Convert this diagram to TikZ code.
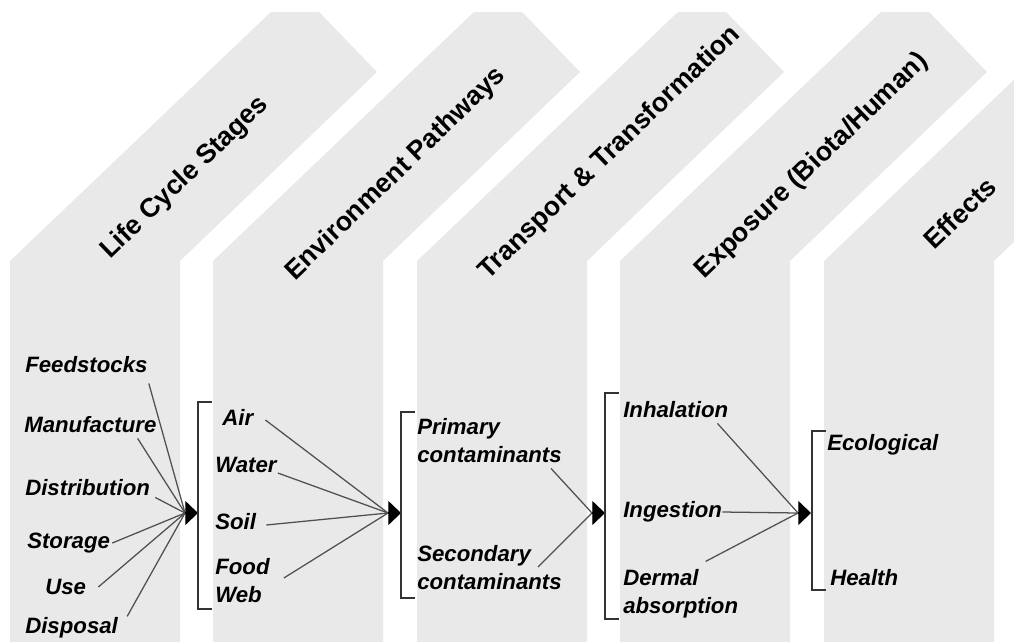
\documentclass[tikz,border=0pt]{standalone}
\usepackage{fontspec}
\setmainfont{Liberation Sans}
\usetikzlibrary{calc,arrows.meta}
\definecolor{bandgray}{RGB}{233,233,233}
\definecolor{linegray}{RGB}{80,80,80}
\newcommand{\BandW}{170}
\newcommand{\Band}[1]{%
(#1,660) -- (#1,261) -- %
({#1+286},-12) -- ({#1+367},72) -- %
({#1+\BandW},261) -- ({#1+\BandW},660) -- %
cycle %
}
\newcommand{\Bracket}[3]{%
({#1+14},#2) -- (#1,#2) -- (#1,#3) -- ({#1+14},#3) %
}

\begin{document}
\begin{tikzpicture}[x=0.025cm, y=-0.025cm,
    item/.style={font=\bfseries\itshape\fontsize{15.8}{19.9}\selectfont, anchor=west, inner sep=0pt, align=left},
    head/.style={font=\bfseries\fontsize{19}{22}\selectfont, rotate=44, inner sep=0pt},
    link/.style={draw=linegray, line width=0.9pt},
    brk/.style={draw=black!80, line width=1.3pt},
    tip/.style={-{Triangle[length=9pt,width=17pt]}, line width=0.9pt}]
    \useasboundingbox (0,0) rectangle (1014,641);
    \begin{scope}
    \path[clip] (0,12) rectangle (1014,641);
    \fill[bandgray] \Band{10};
    \fill[bandgray] \Band{213};
    \fill[bandgray] \Band{417};
    \fill[bandgray] \Band{620};
    \fill[bandgray] \Band{824};
    \end{scope}
    \node[head] (lcs) at (185,178) {Life Cycle Stages};
    \node[head] (envp) at (396,174) {Environment Pathways};
    \node[head] (trans) at (610,153) {Transport \& Transformation};
    \node[head] (expo) at (812,166) {Exposure (Biota/Human)};
    \node[head] (effx) at (960,213) {Effects};
    \node[item] (feed) at (25,365) {Feedstocks};
    \node[item] (manu) at (24,425) {Manufacture};
    \node[item] (dist) at (25,488) {Distribution};
    \node[item] (stor) at (27,543) {Storage};
    \node[item] (use) at (45,587) {Use};
    \node[item] (disp) at (25,628) {Disposal};
    \node[item] (air) at (222,417) {Air};
    \node[item] (water) at (215,465) {Water};
    \node[item] (soil) at (215,522) {Soil};
    \node[item] (food) at (215,581) {Food\\Web};
    \node[item] (prim) at (417,441) {Primary\\contaminants};
    \node[item] (sec) at (417,568) {Secondary\\contaminants};
    \node[item] (inh) at (623,410) {Inhalation};
    \node[item] (ing) at (623,512) {Ingestion};
    \node[item] (derm) at (623,594) {Dermal\\absorption};
    \node[item] (eco) at (827,445) {Ecological};
    \node[item] (hlth) at (830,578) {Health};
    \coordinate (b1) at (185,513);
    \coordinate (t1) at (198,513);
    \coordinate (b2) at (388,513);
    \coordinate (t2) at (401,513);
    \coordinate (b3) at (592,513);
    \coordinate (t3) at (605,513);
    \coordinate (b4) at (798,513);
    \coordinate (t4) at (811,513);
    \draw[link] ($(feed.south east)+(1,10)$) -- (b1);
    \draw[link] ($(manu.south east)+(-19,5)$) -- (b1);
    \draw[link] ($(dist.south east)+(5,1)$) -- (b1);
    \draw[link] ($(stor.east)+(2,0)$) -- (b1);
    \draw[link] ($(use.east)+(12,0)$) -- (b1);
    \draw[link] ($(disp.north east)+(9,-1)$) -- (b1);
    \draw[link] ($(air.east)+(12,3)$) -- (b2);
    \draw[link] ($(water.south east)+(1,0)$) -- (b2);
    \draw[link] ($(soil.east)+(10,3)$) -- (b2);
    \draw[link] ($(food.east)+(14,-3)$) -- (b2);
    \draw[link] ($(prim.south east)+(-11,5)$) -- (b3);
    \draw[link] ($(sec.east)+(-24,-1)$) -- (b3);
    \draw[link] ($(inh.south east)+(-11,5)$) -- (b4);
    \draw[link] (ing.east) -- (b4);
    \draw[link] ($(derm.north)+(25,-8)$) -- (b4);
    \draw[tip] (b1) -- (t1);
    \draw[tip] (b2) -- (t2);
    \draw[tip] (b3) -- (t3);
    \draw[tip] (b4) -- (t4);
    \draw[brk] \Bracket{198}{402}{609};
    \draw[brk] \Bracket{401}{412}{598};
    \draw[brk] \Bracket{605}{393}{619};
    \draw[brk] \Bracket{812}{431}{590};
  \end{tikzpicture}
\end{document}
